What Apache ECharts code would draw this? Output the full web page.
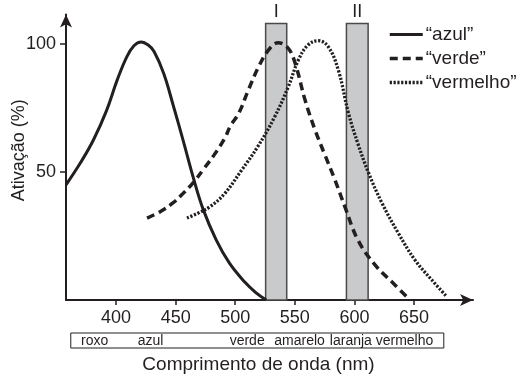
<!DOCTYPE html>
<html>
<head>
<meta charset="utf-8">
<script src="https://cdn.jsdelivr.net/npm/echarts@6/dist/echarts.min.js"></script>
<style>
html,body{margin:0;padding:0;background:#fff;}
#c{width:520px;height:380px;}
</style>
</head>
<body>
<div id="c"></div>
<script>
// ---- data ----
const wavelengthTicks = [400, 450, 500, 550, 600, 650];
const activationTicks = [50, 100];

const azul = [[358,45],[370,53.5],[381,62.5],[392,74],[401,86],[409,95],[415,99.3],[421,100.8],[427,99.6],[432,97],[440,88.5],[448,76],[456.5,62],[465,47.5],[473,35.5],[484,23.5],[495,14.5],[508,7],[517,3],[526,0]];
const verde = [[426,32],[437,34.5],[448,38],[457,42],[465,46],[474,51.5],[482,56.5],[491,63],[496,68],[503,73],[511,82],[519.5,91],[528,97.7],[536,100.5],[544.3,98.4],[550.2,92.6],[558.6,78.1],[567,66.4],[575.3,56.6],[583.7,46.9],[592.1,36.3],[603,23.4],[617.3,13.7],[634,5.9],[644,1.2]];
const vermelho = [[459.5,32],[469,34],[479,36.5],[491,41.5],[505,50.5],[519,60],[533,71.5],[544.5,83.3],[553,93.8],[561,99.6],[569.5,101.3],[578,99],[586.5,89.8],[595,73],[603,61],[612,49.5],[623,38],[637,26],[651,15.5],[665,7.8],[677.5,1.3]];

// highlighted bands: start nm, end nm, height %, label
const bandStart = [525.5, 593.3];
const bandEnd = [543.2, 611.5];
const bandTop = [108, 108];
const bandLabels = ['I', 'II'];

// colour names under the axis
const colorNames = ['roxo', 'azul', 'verde', 'amarelo', 'laranja', 'vermelho'];
const colorCenters = [382, 429, 510, 554, 597, 642];
const colorBoxRange = [362, 675];

const seriesNames = ['\u201cazul\u201d', '\u201cverde\u201d', '\u201cvermelho\u201d'];

// ---- chart ----
const ink = '#231f20';
const font = 'Liberation Sans, Arial, sans-serif';
const chart = echarts.init(document.getElementById('c'), null, {renderer: 'canvas'});

const bandData = bandStart.map((s, i) => [s, bandEnd[i], bandTop[i], bandLabels[i]]);
const lineStyles = [
  {color: ink, width: 3, type: 'solid'},
  {color: ink, width: 3.5, type: [8, 5]},
  {color: ink, width: 3.3, type: [2.2, 1.6]}
];

const option = {
  animation: false,
  backgroundColor: '#fff',
  color: [ink, ink, ink],
  textStyle: {fontFamily: font, color: ink},
  grid: {left: 66, right: 47, top: 14.6, bottom: 80, containLabel: false, outerBoundsMode: 'none'},
  legend: {
    orient: 'vertical',
    left: 383, top: 20,
    itemWidth: 33, itemHeight: 14, itemGap: 5,
    data: seriesNames.map((n, i) => ({name: n, lineStyle: lineStyles[i]})),
    itemStyle: {opacity: 0},
    textStyle: {fontFamily: font, fontSize: 19, color: ink, padding: [0, 0, 0, -2]},
    selectedMode: false
  },
  xAxis: {
    type: 'value', min: 358, max: 699.5,
    name: 'Comprimento de onda (nm)', nameLocation: 'middle', nameGap: 55,
    nameTextStyle: {fontFamily: font, fontSize: 19, color: ink, padding: [0, 22, 0, 0]},
    nameMoveOverlap: false,
    axisLine: {show: true, symbol: ['none', 'arrow'], symbolSize: [9, 13], lineStyle: {color: ink, width: 2}},
    axisTick: {show: true, customValues: wavelengthTicks, length: 5, lineStyle: {color: ink, width: 1.5}},
    axisLabel: {customValues: wavelengthTicks, fontSize: 18, color: ink, fontFamily: font, margin: 9},
    splitLine: {show: false}
  },
  yAxis: {
    type: 'value', min: 0, max: 111.5,
    name: 'Ativação (%)', nameLocation: 'middle', nameGap: 38, nameRotate: 90,
    nameMoveOverlap: false,
    nameTextStyle: {fontFamily: font, fontSize: 18, color: ink, padding: [0, 0, 0, 14]},
    axisLine: {show: true, symbol: ['none', 'arrow'], symbolSize: [9, 13], lineStyle: {color: ink, width: 2}},
    axisTick: {show: true, customValues: activationTicks, length: 6, lineStyle: {color: ink, width: 1.5}},
    axisLabel: {customValues: activationTicks, fontSize: 18, color: ink, fontFamily: font, margin: 10},
    splitLine: {show: false}
  },
  series: [
    {
      type: 'custom', z: 1, silent: true,
      data: bandData,
      renderItem: function (params, api) {
        const p0 = api.coord([api.value(0), api.value(2)]);
        const p1 = api.coord([api.value(1), 0]);
        return {
          type: 'group',
          children: [
            {type: 'rect', shape: {x: p0[0], y: p0[1], width: p1[0] - p0[0], height: p1[1] - p0[1]},
             style: {fill: '#c9cacc', stroke: '#4a4a4a', lineWidth: 1.5}},
            {type: 'text', style: {text: bandData[params.dataIndex][3], x: (p0[0] + p1[0]) / 2, y: p0[1] - 3,
             align: 'center', verticalAlign: 'bottom', fontSize: 18, fontFamily: font, fill: ink}}
          ]
        };
      }
    },
    {name: seriesNames[0], type: 'line', z: 3, data: azul, smooth: 0.4, symbol: 'none', lineStyle: lineStyles[0]},
    {name: seriesNames[1], type: 'line', z: 3, data: verde, smooth: 0.4, symbol: 'none', lineStyle: lineStyles[1]},
    {name: seriesNames[2], type: 'line', z: 3, data: vermelho, smooth: 0.4, symbol: 'none', lineStyle: lineStyles[2]}
  ]
};
chart.setOption(option);

// colour band box below the axis
const px = v => chart.convertToPixel({xAxisIndex: 0}, v);
const boxL = px(colorBoxRange[0]), boxR = px(colorBoxRange[1]);
const graphics = [{
  type: 'rect', shape: {x: boxL, y: 333, width: boxR - boxL, height: 15},
  style: {fill: 'none', stroke: ink, lineWidth: 1}
}];
colorNames.forEach((n, i) => {
  graphics.push({type: 'text', style: {text: n, x: px(colorCenters[i]), y: 341, align: 'center', verticalAlign: 'middle',
    fontSize: 14, fontFamily: font, fill: ink}});
});
chart.setOption({graphic: graphics});
</script>
</body>
</html>
